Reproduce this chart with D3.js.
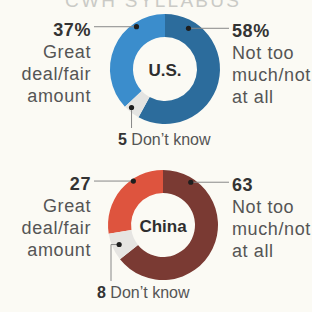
<!DOCTYPE html>
<html>
<head>
<meta charset="utf-8">
<script src="https://cdn.jsdelivr.net/npm/d3@7"></script>
<style>
  html, body { margin: 0; padding: 0; background: #fbfaf4; }
  svg { display: block; font-family: "Liberation Sans", Arial, sans-serif; }
</style>
</head>
<body>
<div class="canvas"></div>
<script>
/**
 * Data
 */
const countries = ["U.S.", "China"]
const categories = ["Great deal/fair amount", "Not too much/not at all", "Don't know"]
const usValues = [37, 58, 5]
const chinaValues = [27, 63, 8]
const valueLabels = [["37%", "58%", "5"], ["27", "63", "8"]]

/**
 * Dimension setup
 */
const dims = { width: 312, height: 312, outer: 55, inner: 32 }
const centers = [{ x: 165, y: 69 }, { x: 163, y: 225 }]

const palettes = [
    ["#3b8dcc", "#2c6c9c", "#e4e4e2"],
    ["#de543e", "#7a3a33", "#e6e5e2"]
]

const svg = d3.select(".canvas")
    .append("svg")
    .attr("width", dims.width)
    .attr("height", dims.height)

// faded header text cut off at the top
svg.append("text")
    .attr("x", 152)
    .attr("y", 7)
    .attr("text-anchor", "middle")
    .attr("fill", "#cacac6")
    .attr("font-size", 19)
    .attr("textLength", 174)
    .text("CWH SYLLABUS")

/**
 * Pie generator - order clockwise from 12 o'clock: not too much, don't know, great deal
 */
const drawOrder = [1, 2, 0]
const pie = d3.pie()
    .sort((a, b) => drawOrder.indexOf(a.i) - drawOrder.indexOf(b.i))
    .value(d => d.v)

const arcPath = d3.arc()
    .outerRadius(dims.outer)
    .innerRadius(dims.inner)

// angle (deg) and radius where each leader dot sits
const dotSpots = [
    [{ a: -34, r: 51 }, { a: 30, r: 47 }, { a: 221, r: 51 }],
    [{ a: -34, r: 53 }, { a: 33, r: 51 }, { a: 246, r: 48 }]
]

const leftLines = ["Great", "deal/fair", "amount"]
const rightLines = ["Not too", "much/not", "at all"]

const labelFont = { size: 18, spacing: 0.6 }

const drawDonut = (values, k) => {
    const c = centers[k]
    const g = svg.append("g")
        .attr("transform", `translate(${c.x},${c.y})`)

    const data = values.map((v, i) => ({ v, i }))

    g.selectAll("path")
        .data(pie(data))
        .enter()
        .append("path")
            .attr("d", arcPath)
            .attr("fill", d => palettes[k][d.data.i])

    g.append("text")
        .attr("x", 0)
        .attr("y", 7)
        .attr("text-anchor", "middle")
        .attr("font-weight", "bold")
        .attr("font-size", 17)
        .attr("fill", "#2e2e2e")
        .text(countries[k])

    const dots = dotSpots[k].map(s => d3.pointRadial(s.a * Math.PI / 180, s.r))

    // left leader
    g.append("line")
        .attr("x1", dots[0][0]).attr("y1", dots[0][1])
        .attr("x2", 94 - c.x).attr("y2", dots[0][1])
        .attr("stroke", "#888").attr("stroke-width", 1)
    // right leader
    g.append("line")
        .attr("x1", dots[1][0]).attr("y1", dots[1][1])
        .attr("x2", 229 - c.x).attr("y2", dots[1][1])
        .attr("stroke", "#888").attr("stroke-width", 1)

    // don't know leader
    const dkBottom = k === 0 ? 128 - c.y : 281 - c.y
    const dkX = k === 0 ? dots[2][0] : 111 - c.x
    g.append("path")
        .attr("d", `M${dots[2][0]},${dots[2][1]} H${dkX} V${dkBottom}`)
        .attr("fill", "none")
        .attr("stroke", "#888").attr("stroke-width", 1)

    g.selectAll("circle")
        .data(dots)
        .enter()
        .append("circle")
            .attr("cx", d => d[0])
            .attr("cy", d => d[1])
            .attr("r", 2.6)
            .attr("fill", "#1e1e1e")

    // left label
    const lt = g.append("text")
        .attr("text-anchor", "end")
        .attr("font-size", labelFont.size)
        .attr("letter-spacing", labelFont.spacing)
        .attr("fill", "#555")
    lt.append("tspan")
        .attr("x", 91 - c.x).attr("y", dots[0][1] + 9)
        .attr("font-weight", "bold").attr("fill", "#333")
        .text(valueLabels[k][0])
    leftLines.forEach((t, j) => {
        lt.append("tspan")
            .attr("x", 91 - c.x).attr("y", dots[0][1] + 9 + 22 * (j + 1))
            .text(t)
    })

    // right label
    const rt = g.append("text")
        .attr("font-size", labelFont.size)
        .attr("letter-spacing", labelFont.spacing)
        .attr("fill", "#555")
    rt.append("tspan")
        .attr("x", 232 - c.x).attr("y", dots[1][1] + 9)
        .attr("font-weight", "bold").attr("fill", "#333")
        .text(valueLabels[k][1])
    rightLines.forEach((t, j) => {
        rt.append("tspan")
            .attr("x", 232 - c.x).attr("y", dots[1][1] + 9 + 22 * (j + 1))
            .text(t)
    })

    // don't know label
    const dk = g.append("text")
        .attr("x", k === 0 ? 118 - c.x : 97 - c.x)
        .attr("y", dkBottom + 17)
        .attr("font-size", 16)
        .attr("fill", "#555")
    dk.append("tspan").attr("font-weight", "bold").attr("fill", "#333").text(valueLabels[k][2])
    dk.append("tspan").text(" Don\u2019t know")
}

drawDonut(usValues, 0)
drawDonut(chinaValues, 1)
</script>
</body>
</html>
